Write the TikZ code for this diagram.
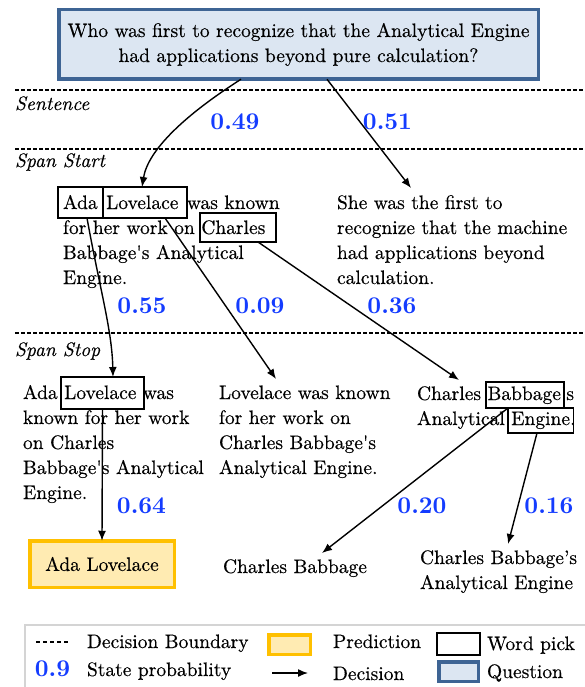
\documentclass[tikz,border=0pt]{standalone}
\usepackage{fontspec}
\setmainfont{lmroman10-regular.otf}[BoldFont=lmroman10-bold.otf, ItalicFont=lmroman10-italic.otf, BoldItalicFont=lmroman10-bolditalic.otf, UprightFeatures={FakeBold=0.4}, ItalicFeatures={FakeBold=0.4}]
\usetikzlibrary{arrows.meta}
\definecolor{qfill}{RGB}{220,230,242}
\definecolor{qborder}{RGB}{62,100,148}
\definecolor{yfill}{RGB}{255,235,178}
\definecolor{yborder}{RGB}{255,192,0}
\definecolor{probblue}{RGB}{20,60,255}
\definecolor{legendgray}{RGB}{212,212,212}
\newcommand{\passage}[1]{\begin{tabular}[t]{@{}l@{}}#1\end{tabular}}
\newcommand{\sq}{\textquotesingle}
\begin{document}
\begin{tikzpicture}[x=1pt,y=-1pt,
  every node/.style={inner sep=0pt, outer sep=0pt},
  txt/.style={anchor=base west, font=\fontsize{19.5}{25}\selectfont},
  lab/.style={anchor=base west, font=\fontsize{19.5}{25}\selectfont\itshape},
  prob/.style={anchor=base, font=\fontsize{24}{30}\selectfont\bfseries, text=probblue},
  wbox/.style={draw, line width=1.5pt},
  qbox/.style={draw=qborder, fill=qfill, line width=3.5pt},
  predbox/.style={draw=yborder, fill=yfill, line width=3.5pt},
  boundary/.style={dash pattern=on 3.5pt off 2.5pt, line width=1.2pt},
  decision/.style={-{Latex[length=10pt,width=8pt]}, line width=1.4pt},
]
\path[use as bounding box, clip] (0,0) rectangle (585,687);

% question
\node[qbox, minimum width=479.5pt, minimum height=69.5pt,
      font=\fontsize{19.5}{25}\selectfont] (q) at (298.5,44.5)
  {\begin{tabular}{@{}c@{}}Who was first to recognize that the Analytical Engine\\had applications beyond pure calculation?\end{tabular}};

% decision boundaries
\draw[boundary] (15,90) -- (583,90);
\draw[boundary] (15,149) -- (583,149);
\draw[boundary] (15,333) -- (583,333);
\node[lab] (lSent) at (15,110) {Sentence};
\node[lab] (lStart) at (15,167) {Span Start};
\node[lab] (lStop) at (15,356) {Span Stop};

% span start passages
\node[txt] (pL1) at (63,209) {\passage{Ada\hspace{2pt} Lovelace\hspace{2pt} was known\\for her work on Charles\\Babbage\sq s Analytical\\Engine.}};
\node[txt] (pR1) at (337,209) {\passage{She was the first to\\recognize that the machine\\had applications beyond\\calculation.}};
\node[wbox, minimum width=45pt, minimum height=31pt] (bAda) at (80.5,202.5) {};
\node[wbox, minimum width=84pt, minimum height=31pt] (bLove1) at (145,202.5) {};
\node[wbox, minimum width=76pt, minimum height=29pt] (bCharles) at (238,227.5) {};

% span stop passages
\node[txt] (pL2) at (23,399) {\passage{Ada Lovelace was\\known for her work\\on Charles\\Babbage\sq s Analytical\\Engine.}};
\node[txt] (pM2) at (219,399) {\passage{Lovelace was known\\for her work on\\Charles Babbage\sq s\\Analytical Engine.}};
\node[txt] (pR2) at (417,400) {\passage{Charles Babbage\sq s\\Analytical Engine.}};
\node[wbox, minimum width=83pt, minimum height=32pt] (bLove2) at (102.5,393) {};
\node[wbox, minimum width=78pt, minimum height=26pt] (bBabbage) at (525,395) {};
\node[wbox, minimum width=65.5pt, minimum height=25pt] (bEngine) at (540.75,420.5) {};

% answers
\node[predbox, minimum width=144.5pt, minimum height=46.5pt,
      font=\fontsize{19.5}{25}\selectfont] (aAda) at (102,564) {Ada Lovelace};
\node[txt] (aCB) at (223,573) {\passage{Charles Babbage}};
\node[txt] (aCBAE) at (420,564) {\passage{Charles Babbage’s\\Analytical Engine}};

% probabilities
\node[prob] (p049) at (235,130) {0.49};
\node[prob] (p051) at (387.5,130) {0.51};
\node[prob] (p055) at (142,313) {0.55};
\node[prob] (p009) at (260,313) {0.09};
\node[prob] (p036) at (392,313) {0.36};
\node[prob] (p064) at (141.5,513) {0.64};
\node[prob] (p020) at (422,513) {0.20};
\node[prob] (p016) at (549,513) {0.16};

% decisions
\draw[decision] ([xshift=-57.5pt]q.south) .. controls (185,115) and (148,150) .. ([xshift=-3pt]bLove1.north);
\draw[decision] ([xshift=28.5pt]q.south) -- ([xshift=74pt,yshift=3.5pt]pR1.north west);
\draw[decision] ([xshift=6.5pt]bAda.south) .. controls (100,290) and (112,330) .. ([xshift=10.5pt]bLove2.north);
\draw[decision] ([xshift=20pt]bLove1.south) -- ([xshift=57pt,yshift=2.5pt]pM2.north west);
\draw[decision] ([xshift=20pt]bCharles.south) -- ([xshift=42pt,yshift=2.5pt]pR2.north west);
\draw[decision] (bLove2.south) -- (aAda.north);
\draw[decision] ([xshift=-17pt]bBabbage.south) -- ([xshift=99pt,yshift=2.5pt]aCB.north west);
\draw[decision] ([xshift=-3.75pt]bEngine.south) -- ([xshift=88pt,yshift=2.5pt]aCBAE.north west);

% legend
\draw[legendgray, line width=1.5pt] (25,625) rectangle (600,700);
\draw[dash pattern=on 4pt off 3pt, line width=1.2pt] (36,642) -- (69,642);
\node[txt] (lgDB) at (87,648) {Decision Boundary};
\node[prob] (lg09) at (52.5,676) {0.9};
\node[txt] (lgSP) at (87,676) {State probability};
\node[predbox, minimum width=41.5pt, minimum height=19.5pt] (lgPred) at (289.5,644.5) {};
\node[txt] (lgPredT) at (333,648) {Prediction};
\coordinate (lgA1) at (272,673);
\coordinate (lgA2) at (308,673);
\draw[decision] (lgA1) -- (lgA2);
\node[txt] (lgDec) at (333,680) {Decision};
\node[wbox, minimum width=43pt, minimum height=22pt] (lgWP) at (458.5,644) {};
\node[txt] (lgWPT) at (487,650) {Word pick};
\node[qbox, minimum width=39.5pt, minimum height=19.5pt] (lgQ) at (458.5,671.5) {};
\node[txt] (lgQT) at (487,678) {Question};
\end{tikzpicture}
\end{document}
